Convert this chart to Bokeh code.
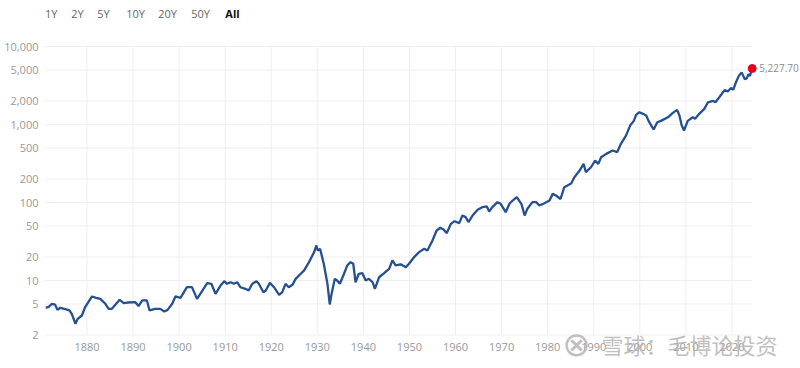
from bokeh.plotting import figure
from bokeh.models import FixedTicker, Label, Range1d
from bokeh.embed import file_html
from bokeh.resources import INLINE
from bokeh.core.properties import value

# ---- data ----
years = [1871.0, 1871.7, 1872.4, 1873.1, 1873.6, 1874.2, 1875.3, 1876.2, 1876.7, 1877.5,
         1878.0, 1878.9, 1879.6, 1880.3, 1881.1, 1882.0, 1882.9, 1884.0, 1884.7, 1885.4,
         1886.2, 1887.1, 1888.0, 1888.8, 1890.5, 1891.2, 1892.0, 1893.0, 1893.6, 1894.8,
         1895.9, 1896.8, 1897.5, 1898.5, 1899.2, 1900.3, 1901.7, 1902.8, 1903.9, 1904.6,
         1906.1, 1907.0, 1907.9, 1909.0, 1909.8, 1910.4, 1911.2, 1911.9, 1912.6, 1913.3,
         1914.4, 1915.1, 1915.9, 1916.8, 1917.3, 1918.3, 1918.8, 1919.7, 1920.6, 1921.7,
         1922.4, 1923.1, 1923.8, 1924.6, 1925.3, 1926.4, 1927.1, 1928.2, 1929.3, 1929.8,
         1930.1, 1930.6, 1931.4, 1932.2, 1932.7, 1933.1, 1933.8, 1934.3, 1934.9, 1935.8,
         1936.5, 1937.2, 1937.8, 1938.3, 1939.0, 1939.8, 1940.5, 1941.2, 1942.0, 1942.5,
         1943.4, 1944.5, 1945.6, 1946.3, 1947.0, 1948.1, 1949.2, 1949.9, 1951.0, 1952.1,
         1953.2, 1953.9, 1955.0, 1955.9, 1956.7, 1957.4, 1958.1, 1959.0, 1959.8, 1960.8,
         1961.5, 1962.2, 1962.8, 1963.7, 1964.8, 1965.9, 1966.8, 1967.3, 1968.0, 1969.1,
         1969.8, 1970.9, 1971.7, 1972.4, 1973.3, 1973.8, 1974.3, 1975.0, 1975.6, 1976.7,
         1977.5, 1978.2, 1979.3, 1980.4, 1981.1, 1981.8, 1982.8, 1983.6, 1984.3, 1985.1,
         1985.8, 1986.9, 1987.8, 1988.3, 1989.4, 1990.3, 1991.0, 1991.6, 1992.7, 1994.1,
         1995.1, 1995.9, 1997.0, 1997.9, 1998.7, 1999.2, 1999.9, 2000.7, 2001.4, 2001.9,
         2002.5, 2003.0, 2003.8, 2004.6, 2006.1, 2007.1, 2008.1, 2008.6, 2009.1, 2009.6,
         2010.4, 2011.5, 2012.0, 2012.9, 2014.0, 2014.8, 2015.9, 2016.4, 2017.3, 2018.4,
         2019.1, 2019.8, 2020.3, 2020.8, 2021.5, 2022.1, 2022.8, 2023.2, 2023.6, 2023.9,
         2024.4]
prices = [4.45, 4.6, 5.0, 4.9, 4.2, 4.47, 4.3, 4.13, 3.74, 2.79,
          3.23, 3.56, 4.55, 5.27, 6.24, 6.0, 5.82, 5.03, 4.33, 4.33,
          4.93, 5.65, 5.12, 5.22, 5.27, 4.7, 5.55, 5.55, 4.13, 4.33,
          4.33, 4.0, 4.2, 5.03, 6.24, 6.0, 8.2, 8.2, 5.82, 6.75,
          9.24, 9.07, 6.75, 8.6, 9.8, 9.07, 9.5, 9.07, 9.5, 8.2,
          7.82, 7.44, 9.07, 9.8, 9.07, 7.08, 7.44, 9.33, 8.2, 6.55,
          7.08, 9.07, 8.2, 8.8, 10.5, 12.2, 13.4, 17.2, 23.1, 28.1,
          24.2, 25.5, 16.4, 9.07, 4.93, 6.75, 10.5, 10.0, 9.07, 12.2,
          15.6, 17.2, 16.4, 9.5, 12.2, 12.4, 10.0, 10.5, 9.5, 7.82,
          11.0, 12.4, 14.1, 18.1, 15.6, 16.1, 14.8, 16.4, 19.9, 23.1,
          25.5, 24.2, 32.6, 43.8, 47.4, 45.0, 40.5, 53.3, 57.6, 54.4,
          68.1, 65.0, 56.2, 68.1, 80.6, 87.4, 89.1, 76.7, 87.4, 101.0,
          96.2, 75.1, 96.2, 106.0, 117.0, 106.0, 96.0, 68.0, 83.3, 101.0,
          101.0, 91.3, 98.0, 106.0, 129.0, 123.0, 111.0, 157.0, 165.0, 175.0,
          211.0, 255.0, 313.0, 245.0, 283.0, 345.0, 313.0, 381.0, 420.0, 464.0,
          442.0, 565.0, 721.0, 969.0, 1113.0, 1327.0, 1438.0, 1370.0, 1305.0, 1113.0,
          969.0, 862.0, 1070.0, 1113.0, 1237.0, 1400.0, 1540.0, 1305.0, 969.0, 837.0,
          1113.0, 1237.0, 1183.0, 1370.0, 1584.0, 1926.0, 2009.0, 1926.0, 2255.0, 2754.0,
          2655.0, 2935.0, 2800.0, 3400.0, 4200.0, 4658.0, 3800.0, 3900.0, 4400.0, 4200.0,
          5227.7]

x_ticks = list(range(1880, 2021, 10))
x_tick_labels = [str(t) for t in x_ticks]
y_ticks = [2, 5, 10, 20, 50, 100, 200, 500, 1000, 2000, 5000, 10000]
y_tick_labels = {2: "2", 5: "5", 10: "10", 20: "20", 50: "50", 100: "100", 200: "200",
                 500: "500", 1000: "1,000", 2000: "2,000", 5000: "5,000", 10000: "10,000"}
buttons = ["1Y", "2Y", "5Y", "10Y", "20Y", "50Y", "All"]
last_label = "5,227.70"
watermark = "雪球：毛博论投资"

# ---- layout (pixel geometry of the plotting area) ----
W, H = 800, 368
FRAME_LEFT = 45
PX_PER_YEAR = 4.607          # horizontal scale
PX_PER_DECADE = 78.0         # vertical (log) scale
Y10_PX = 280.0               # pixel row of the value 10


def year_at(px):
    return years[0] + (px - FRAME_LEFT) / PX_PER_YEAR


def val_at(py):
    return 10 ** (1 + (Y10_PX - py) / PX_PER_DECADE)


FONT = "Open Sans"
GREY = "#999999"
GRID = "#efefef"

p = figure(width=W, height=H, y_axis_type="log", x_axis_location=None,
           output_backend="svg", toolbar_location=None,
           x_range=Range1d(year_at(FRAME_LEFT), year_at(W)),
           y_range=Range1d(val_at(H), val_at(0)),
           min_border_left=FRAME_LEFT, min_border_right=0, min_border_top=0,
           min_border_bottom=0)
p.outline_line_color = None
p.background_fill_color = "white"
p.border_fill_color = "white"
p.xgrid.visible = False
p.ygrid.visible = False

ax = p.yaxis
ax.ticker = FixedTicker(ticks=y_ticks)
ax.major_label_overrides = y_tick_labels
ax.axis_line_color = None
ax.major_tick_line_color = None
ax.minor_tick_line_color = None
ax.major_tick_out = 0
ax.major_tick_in = 0
ax.minor_tick_out = 0
ax.major_label_standoff = 7
ax.major_label_text_color = GREY
ax.major_label_text_font = FONT
ax.major_label_text_font_size = "11px"

# grid lines limited to the data area
p.segment(x0=x_ticks, y0=[y_ticks[0]] * len(x_ticks), x1=x_ticks,
          y1=[y_ticks[-1]] * len(x_ticks), line_color=GRID, line_width=1)
p.segment(x0=[years[0]] * len(y_ticks), y0=y_ticks, x1=[years[-1]] * len(y_ticks),
          y1=y_ticks, line_color=GRID, line_width=1)

# year labels
p.text(x=x_ticks, y=[val_at(346)] * len(x_ticks), text=x_tick_labels,
       text_align="center", text_baseline="middle", text_font=value(FONT),
       text_font_size="11px", text_color=GREY)

p.line(years, prices, line_color="#27508f", line_width=2.3)
p.scatter([years[-1]], [prices[-1]], size=8, fill_color="#e8001c", line_color="#e8001c")

p.add_layout(Label(x=years[-1], y=prices[-1], text=last_label, x_offset=7, y_offset=0,
                   text_baseline="middle", text_align="left", text_font=FONT,
                   text_font_size="10px", text_color="#8c8c8c"))

btn_px = [50.7, 77, 103, 135, 167, 200, 232]
for b, bx in zip(buttons, btn_px):
    p.add_layout(Label(x=year_at(bx), y=val_at(13), text=b,
                       text_align="center", text_baseline="middle", text_font=FONT,
                       text_font_size="11px",
                       text_color="#111111" if b == "All" else "#666666",
                       text_font_style="bold" if b == "All" else "normal"))

# source watermark
p.add_layout(Label(x=year_at(576), y=val_at(343), text="⊗", text_align="center",
                   text_baseline="middle", text_font="DejaVu Sans",
                   text_font_size="34px", text_color="#b4b4b4", text_alpha=0.85))
p.add_layout(Label(x=year_at(777), y=val_at(343), text=watermark,
                   text_align="right", text_baseline="middle",
                   text_font="Noto Sans CJK SC", text_font_size="22px",
                   text_color="#b4b4b4", text_alpha=0.85))

open("out.html", "w").write(file_html(p, INLINE))
